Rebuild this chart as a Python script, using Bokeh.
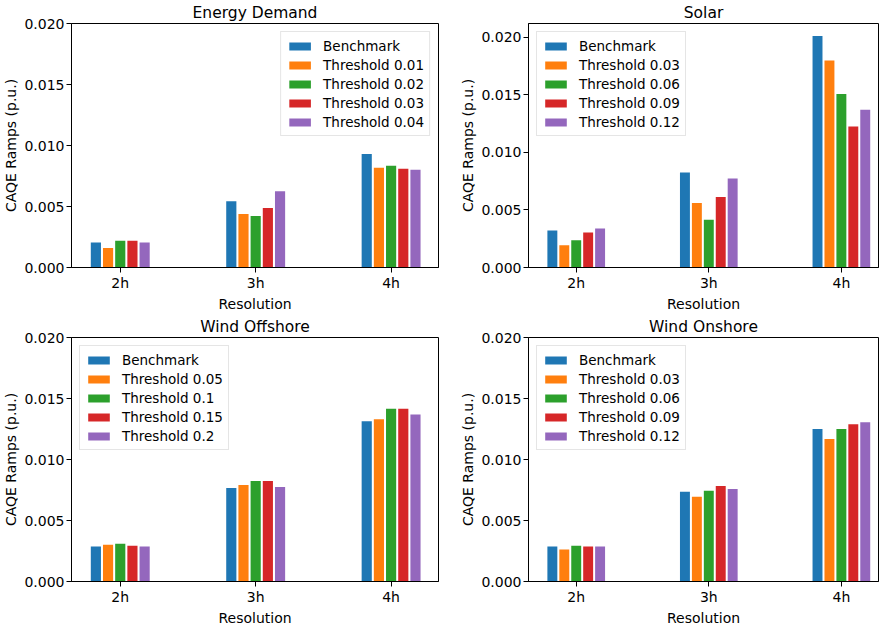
from bokeh.plotting import figure
from bokeh.models import Range1d, FixedTicker, NumeralTickFormatter, Legend, LegendItem, ColumnDataSource
from bokeh.layouts import column, row
from bokeh.embed import file_html
from bokeh.resources import INLINE

# ---------------- data ----------------
resolutions = ["2h", "3h", "4h"]
colors = ["#1f77b4", "#ff7f0e", "#2ca02c", "#d62728", "#9467bd"]

energy_labels = ["Benchmark", "Threshold 0.01", "Threshold 0.02", "Threshold 0.03", "Threshold 0.04"]
energy_benchmark = [0.00204, 0.00543, 0.00930]
energy_t001 = [0.00159, 0.00438, 0.00817]
energy_t002 = [0.00220, 0.00422, 0.00833]
energy_t003 = [0.00220, 0.00487, 0.00809]
energy_t004 = [0.00204, 0.00624, 0.00801]

solar_labels = ["Benchmark", "Threshold 0.03", "Threshold 0.06", "Threshold 0.09", "Threshold 0.12"]
solar_benchmark = [0.00321, 0.00825, 0.02011]
solar_t003 = [0.00193, 0.00560, 0.01798]
solar_t006 = [0.00236, 0.00415, 0.01508]
solar_t009 = [0.00304, 0.00612, 0.01226]
solar_t012 = [0.00339, 0.00774, 0.01371]

offshore_labels = ["Benchmark", "Threshold 0.05", "Threshold 0.1", "Threshold 0.15", "Threshold 0.2"]
offshore_benchmark = [0.00286, 0.00767, 0.01313]
offshore_t005 = [0.00302, 0.00791, 0.01329]
offshore_t010 = [0.00310, 0.00824, 0.01417]
offshore_t015 = [0.00294, 0.00824, 0.01417]
offshore_t020 = [0.00286, 0.00775, 0.01369]

onshore_labels = ["Benchmark", "Threshold 0.03", "Threshold 0.06", "Threshold 0.09", "Threshold 0.12"]
onshore_benchmark = [0.00286, 0.00735, 0.01249]
onshore_t003 = [0.00262, 0.00695, 0.01168]
onshore_t006 = [0.00294, 0.00743, 0.01249]
onshore_t009 = [0.00286, 0.00783, 0.01289]
onshore_t012 = [0.00286, 0.00759, 0.01305]

y_ticks = [0.0, 0.005, 0.010, 0.015, 0.020]

# ---------------- layout params ----------------
STEP = 0.09
BAR_W = 0.075
FONT = "DejaVu Sans"
FH = 244


def make_panel(title, series, labels, y_end, legend_loc, fw, x_end, bl, br):
    p = figure(frame_width=fw, frame_height=FH, output_backend="svg", toolbar_location=None,
               x_range=Range1d(-0.36, x_end), y_range=Range1d(0, y_end),
               min_border_left=bl, min_border_right=br, min_border_top=22, min_border_bottom=40)
    items = []
    n = len(series)
    for i, (vals, lab, col) in enumerate(zip(series, labels, colors)):
        off = (i - (n - 1) / 2) * STEP
        src = ColumnDataSource(dict(x=[k + off for k in range(len(resolutions))], top=vals))
        r = p.vbar(x="x", top="top", bottom=0, width=BAR_W, source=src,
                   fill_color=col, line_color=None)
        items.append(LegendItem(label=lab, renderers=[r]))

    p.title.text = title
    p.title.align = "center"
    p.title.text_font = FONT
    p.title.text_font_size = "15.5px"
    p.title.text_font_style = "normal"
    p.title.text_color = "black"
    p.title.standoff = 3

    p.xgrid.visible = False
    p.ygrid.visible = False
    p.outline_line_color = "black"
    p.outline_line_width = 1
    p.background_fill_color = "white"
    p.border_fill_color = "white"

    p.xaxis.ticker = FixedTicker(ticks=list(range(len(resolutions))))
    p.xaxis.major_label_overrides = {i: c for i, c in enumerate(resolutions)}
    p.yaxis.ticker = FixedTicker(ticks=y_ticks)
    p.yaxis.formatter = NumeralTickFormatter(format="0.000")
    p.xaxis.axis_label = "Resolution"
    p.yaxis.axis_label = "CAQE Ramps (p.u.)"
    for ax in (p.xaxis[0], p.yaxis[0]):
        ax.axis_line_color = "black"
        ax.major_tick_line_color = "black"
        ax.major_tick_out = 5
        ax.major_tick_in = 0
        ax.minor_tick_out = 0
        ax.minor_tick_in = 0
        ax.major_label_text_font = FONT
        ax.major_label_text_font_size = "14px"
        ax.major_label_text_color = "black"
        ax.major_label_standoff = 2
        ax.axis_label_text_font = FONT
        ax.axis_label_text_font_size = "14px"
        ax.axis_label_text_font_style = "normal"
        ax.axis_label_text_color = "black"
        ax.axis_label_standoff = 2

    legend = Legend(items=items, location=legend_loc)
    legend.glyph_width = 27
    legend.glyph_height = 10
    legend.label_height = 17
    legend.spacing = 2
    legend.padding = 5
    legend.margin = 8
    legend.label_standoff = 10
    legend.label_text_font = FONT
    legend.label_text_font_size = "13.5px"
    legend.label_text_color = "black"
    legend.border_line_color = "#cccccc"
    legend.background_fill_alpha = 0.8
    p.add_layout(legend)
    return p


p1 = make_panel("Energy Demand",
                [energy_benchmark, energy_t001, energy_t002, energy_t003, energy_t004],
                energy_labels, 0.020, "top_right", 367, 2.35, 64, 2)
p2 = make_panel("Solar",
                [solar_benchmark, solar_t003, solar_t006, solar_t009, solar_t012],
                solar_labels, 0.0212, "top_left", 350, 2.28, 88, 1)
p3 = make_panel("Wind Offshore",
                [offshore_benchmark, offshore_t005, offshore_t010, offshore_t015, offshore_t020],
                offshore_labels, 0.020, "top_left", 367, 2.35, 64, 2)
p4 = make_panel("Wind Onshore",
                [onshore_benchmark, onshore_t003, onshore_t006, onshore_t009, onshore_t012],
                onshore_labels, 0.020, "top_left", 350, 2.28, 88, 1)

layout = column(row(p1, p2), row(p3, p4))
open("out.html", "w").write(file_html(layout, INLINE))
